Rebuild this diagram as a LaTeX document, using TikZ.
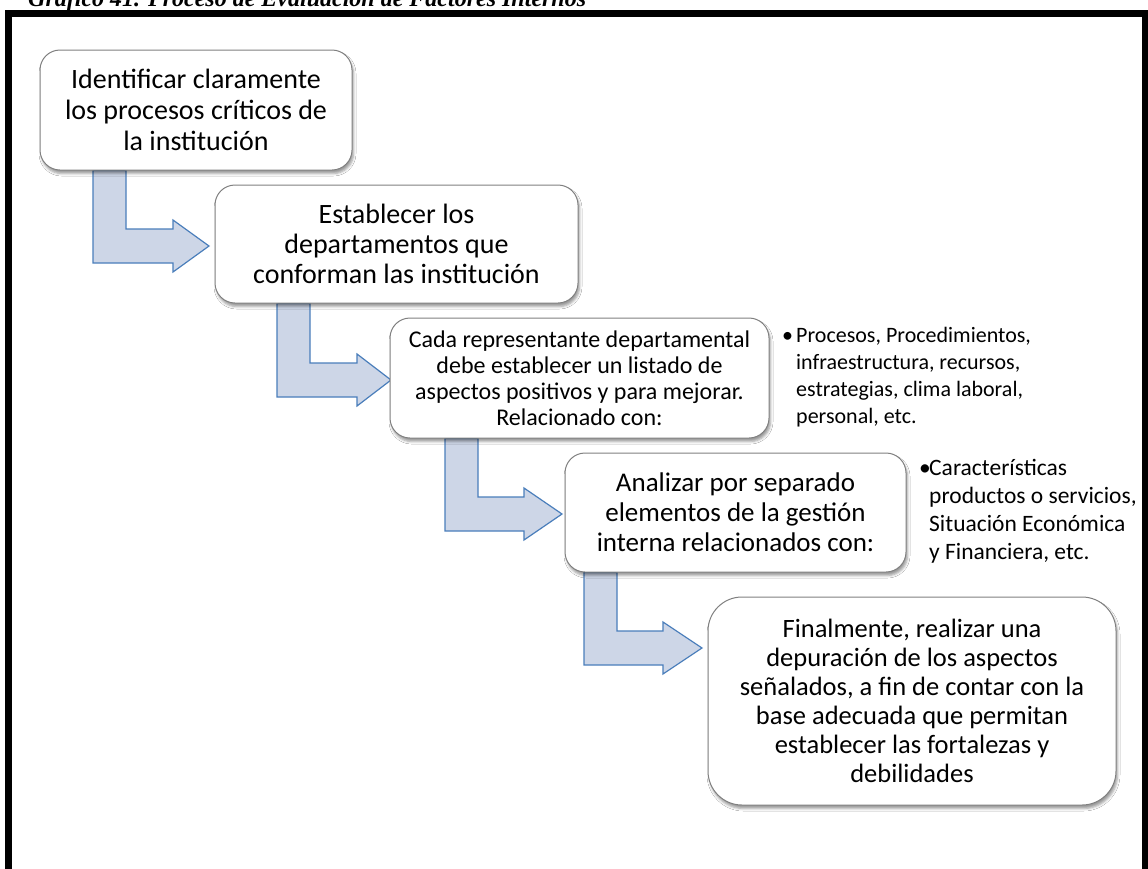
\documentclass[tikz,border=0pt]{standalone}
\usepackage{fontspec}
\setmainfont{Carlito}
\newfontfamily\titlefont{Liberation Serif}
\usetikzlibrary{shadows.blur}
\definecolor{arrowfill}{HTML}{CDD6E7}
\definecolor{arrowline}{HTML}{4A7EBB}
\definecolor{boxline}{HTML}{808080}
\pgfdeclarelayer{background}
\pgfsetlayers{background,main}
\tikzset{
  stepbox/.style={draw=boxline, line width=1pt, fill=white, rounded corners=20pt,
    align=center, inner sep=0pt,
    blur shadow={shadow xshift=1.5pt, shadow yshift=-3.5pt, shadow blur radius=2.5pt, shadow opacity=40}},
  bentarrow/.style={draw=arrowline, line width=1.2pt, fill=arrowfill, line join=miter},
  listtext/.style={inner sep=0pt, anchor=base west, align=left},
  frame/.style={draw=black, line width=6.5pt}
}
% #1 source node, #2 stem left x, #3 bar top y, #4 head base x, #5 tip x
\newcommand\bendarrow[5]{%
  \draw[bentarrow] (#2,0 |- #1.south) -- ({#2+33},0 |- #1.south) -- ({#2+33},#3)
    -- (#4,#3) -- (#4,{#3-9}) -- (#5,{#3+17}) -- (#4,{#3+43}) -- (#4,{#3+34})
    -- (#2,{#3+34}) -- cycle;}
\begin{document}
\begin{tikzpicture}[x=1pt,y=-1pt]
\useasboundingbox (0,0) rectangle (1148,868);
\node[anchor=base west, inner sep=0pt, font={\titlefont\bfseries\itshape\fontsize{24}{28}\selectfont}] (title) at (28,6) {Gráfico 41. Proceso de Evaluación de Factores Internos};
\draw[frame] (8.5,13.5) rectangle (1145,890);

\node[stepbox, minimum width=312pt, minimum height=120pt, font=\fontsize{28}{31}\selectfont] (b1) at (196,110)
  {Identificar claramente\\los procesos críticos de\\la institución};
\node[stepbox, minimum width=363pt, minimum height=118pt, font=\fontsize{28}{30}\selectfont] (b2) at (396.5,244)
  {Establecer los\\departamentos que\\conforman las institución};
\node[stepbox, minimum width=379pt, minimum height=120pt, font=\fontsize{24}{26}\selectfont] (b3) at (579.5,378)
  {Cada representante departamental\\debe establecer un listado de\\aspectos positivos y para mejorar.\\Relacionado con:};
\node[stepbox, minimum width=341pt, minimum height=119pt, font=\fontsize{27}{30}\selectfont] (b4) at (735.5,512.5)
  {Analizar por separado\\elementos de la gestión\\interna relacionados con:};
\node[stepbox, rounded corners=34pt, minimum width=408pt, minimum height=208pt, font=\fontsize{26.5}{29}\selectfont] (b5) at (912,701)
  {Finalmente, realizar una\\depuración de los aspectos\\señalados, a fin de contar con la\\base adecuada que permitan\\establecer las fortalezas y\\debilidades};

\node[listtext, font=\fontsize{22}{27}\selectfont] (l1) at (782,342)
  {\begin{tabular}[t]{@{}l@{}l@{}}\makebox[14pt][l]{\textbullet}&Procesos, Procedimientos,\\&infraestructura, recursos,\\&estrategias, clima laboral,\\&personal, etc.\end{tabular}};
\node[listtext, font=\fontsize{23.5}{28}\selectfont] (l2) at (919,475)
  {\begin{tabular}[t]{@{}l@{}l@{}}\makebox[10pt][l]{\textbullet}&Características\\&productos o servicios,\\&Situación Económica\\&y Financiera, etc.\end{tabular}};

\begin{pgfonlayer}{background}
\fill[white] (0,0) rectangle (1148,868);
\bendarrow{b1}{93}{229}{173}{209}
\bendarrow{b2}{277}{363}{357}{391}
\bendarrow{b3}{445}{497}{524}{562}
\bendarrow{b4}{584}{631}{663}{702}
\end{pgfonlayer}
\end{tikzpicture}
\end{document}
